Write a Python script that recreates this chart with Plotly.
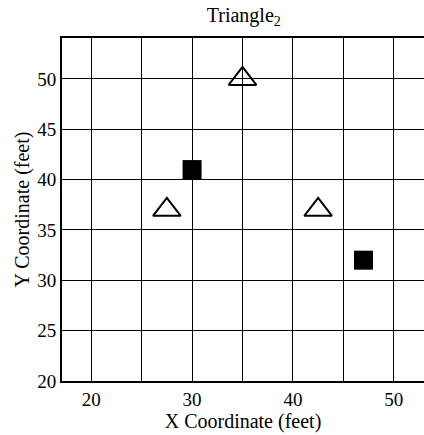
import plotly.graph_objects as go

# square markers
square_x = [30, 47]
square_y = [41, 32]

# triangle markers
tri_x = [27.5, 35, 42.5]
tri_y = [37, 50, 37]

x_ticks = [20, 25, 30, 35, 40, 45, 50]
x_tick_labels = ['20', '', '30', '', '40', '', '50']
y_ticks = [20, 25, 30, 35, 40, 45, 50]

font_family = 'Liberation Serif'

fig = go.Figure()

fig.add_trace(go.Scatter(
    x=square_x, y=square_y, mode='markers',
    marker=dict(symbol='square', size=19, color='black'),
    showlegend=False,
))

fig.add_trace(go.Scatter(
    x=tri_x, y=tri_y, mode='markers',
    marker=dict(symbol='triangle-up-open', size=24, color='black',
                line=dict(width=2, color='black')),
    showlegend=False,
))

fig.update_layout(
    width=424, height=435,
    margin=dict(l=62, r=0, t=38, b=54),
    paper_bgcolor='white', plot_bgcolor='white',
    font=dict(family=font_family, size=19, color='black'),
    title=dict(text='Triangle<sub>2</sub>', x=0.575, xanchor='center',
               y=0.965, yanchor='middle', font=dict(size=20)),
)

fig.update_xaxes(
    range=[17.1, 53.0], tickvals=x_ticks, ticktext=x_tick_labels,
    showgrid=True, gridcolor='black', gridwidth=1,
    showline=True, linecolor='black', linewidth=2, mirror=True,
    ticks='', zeroline=False, automargin=False,
    title=dict(text='X Coordinate (feet)', standoff=0, font=dict(size=20)),
)

fig.update_yaxes(
    range=[20, 54.07], tickvals=y_ticks,
    showgrid=True, gridcolor='black', gridwidth=1,
    showline=True, linecolor='black', linewidth=2, mirror=False,
    ticks='', zeroline=False, automargin=False,
    title=dict(text='Y Coordinate (feet)', standoff=2, font=dict(size=20)),
)

fig.write_html('out.html', config={'displayModeBar': False},
               post_script="document.body.style.margin='0';")
